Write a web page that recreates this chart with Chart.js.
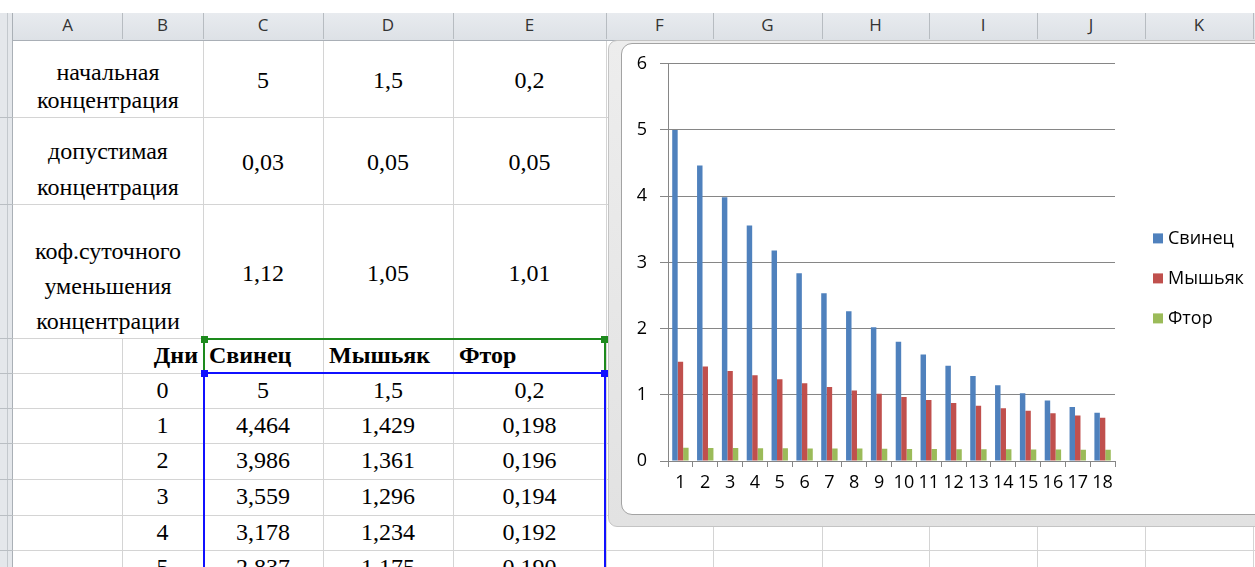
<!DOCTYPE html>
<html lang="ru">
<head>
<meta charset="utf-8">
<script src="https://cdn.jsdelivr.net/npm/chart.js@4.4.0/dist/chart.umd.min.js"></script>
<style>
    body { margin: 0; width: 1255px; height: 567px; overflow: hidden; background: #fff; position: relative; font-family: "Liberation Serif", serif; }
    .abs { position: absolute; box-sizing: border-box; }
    .hline { position: absolute; height: 1px; background: #d4d4d4; }
    .vline { position: absolute; width: 1px; background: #d4d4d4; }
    .hdr { position: absolute; top: 13px; height: 27px; background: linear-gradient(#e8ebef, #dde1e6); border-bottom: 1px solid #a9afb6; }
    .hdr-cell { position: absolute; top: 0; height: 26px; line-height: 26px; text-align: center; font: 17px "Open Sans", sans-serif; color: #333; border-right: 1px solid #b7bcc1; box-sizing: border-box; }
    .cell { position: absolute; display: flex; flex-direction: column; justify-content: center; align-items: center; font-size: 24px; color: #000; box-sizing: border-box; }
    .bold { font-weight: bold; }
    #frame { left: 608px; top: 40px; width: 670px; height: 487px; background: linear-gradient(#ededed, #e2e2e2); border: 1px solid #c4c4c4; border-radius: 9px 0 0 9px; }
    #panel { left: 621px; top: 43px; width: 660px; height: 472px; background: #fff; border: 1px solid #a3a3a3; border-radius: 11px 0 0 11px; }
    #chartBox { position: absolute; left: 623px; top: 40px; width: 632px; height: 474px; }
</style>
</head>
<body>
<div id="sheet"></div>
<div id="frame" class="abs"></div>
<div id="panel" class="abs"></div>
<div id="chartBox"><canvas id="barChart" width="632" height="474"></canvas></div>

<script>
// колонки и строки листа
const colEdges = [13, 122, 203, 323, 453, 606, 713, 822, 929, 1037, 1145, 1253];
const colNames = ['A', 'B', 'C', 'D', 'E', 'F', 'G', 'H', 'I', 'J', 'K'];
const rowEdges = [40, 117, 204, 338, 373, 408, 443, 479, 515, 550, 585];

// параметры
const paramLabels = [
    ['начальная', 'концентрация'],
    ['допустимая', 'концентрация'],
    ['коф.суточного', 'уменьшения', 'концентрации']
];
const paramLineHeights = [28, 36, 35];
const paramShift = [7, 8, 15];
const paramValues = [
    ['5', '1,5', '0,2'],
    ['0,03', '0,05', '0,05'],
    ['1,12', '1,05', '1,01']
];
const tableHead = ['Дни', 'Свинец', 'Мышьяк', 'Фтор'];

// данные диаграммы
const days = ['1', '2', '3', '4', '5', '6', '7', '8', '9', '10', '11', '12', '13', '14', '15', '16', '17', '18'];
const svinets = [5, 4.464, 3.986, 3.559, 3.178, 2.837, 2.533, 2.262, 2.019, 1.803, 1.610, 1.437, 1.283, 1.146, 1.023, 0.914, 0.816, 0.728];
const myshyak = [1.5, 1.429, 1.361, 1.296, 1.234, 1.175, 1.119, 1.066, 1.015, 0.967, 0.921, 0.877, 0.835, 0.795, 0.758, 0.722, 0.687, 0.655];
const ftor = [0.2, 0.198, 0.196, 0.194, 0.192, 0.190, 0.188, 0.187, 0.185, 0.183, 0.181, 0.179, 0.177, 0.176, 0.174, 0.172, 0.170, 0.169];
const seriesNames = ['Свинец', 'Мышьяк', 'Фтор'];
const seriesColors = ['#4f81bd', '#c0504d', '#9bbb59'];
const yTicks = [0, 1, 2, 3, 4, 5, 6];

function el(cls, style, html) {
    const d = document.createElement('div');
    d.className = cls;
    Object.assign(d.style, style);
    if (html !== undefined) d.innerHTML = html;
    document.getElementById('sheet').appendChild(d);
    return d;
}

function fmt(v, i) {
    return (i === 0 ? String(v) : v.toFixed(3)).replace('.', ',');
}

function buildSheet() {
    // левая полоса заголовков строк
    el('abs', { left: '0px', top: '13px', width: '13px', height: '554px', background: '#e4e7eb', borderRight: '1px solid #aab0b6' });
    el('abs', { left: '7px', top: '13px', width: '1px', height: '554px', background: '#c3c8cd' });

    // сетка
    for (let r = 1; r < rowEdges.length; r++) {
        el('hline', { left: '13px', top: rowEdges[r] + 'px', width: '1242px' });
        el('abs', { left: '0px', top: rowEdges[r] + 'px', width: '13px', height: '1px', background: '#b9bec3' });
    }
    colEdges.slice(1).forEach((x, i) => {
        const c = i + 1;
        // A|B объединены в первых трёх строках
        const top = (c === 1) ? rowEdges[3] : 40;
        el('vline', { left: x + 'px', top: top + 'px', height: (567 - top) + 'px' });
    });

    // заголовки колонок
    const hdr = el('hdr', { left: '13px', width: '1242px' });
    colNames.forEach((n, i) => {
        const d = document.createElement('div');
        d.className = 'hdr-cell';
        d.style.left = (colEdges[i] - 13) + 'px';
        d.style.width = (colEdges[i + 1] - colEdges[i] + 1) + 'px';
        d.textContent = n;
        hdr.appendChild(d);
    });

    // параметры
    paramLabels.forEach((lines, r) => {
        const y1 = rowEdges[r], y2 = rowEdges[r + 1];
        el('cell', { left: colEdges[0] + 'px', top: (y1 + paramShift[r]) + 'px', width: (colEdges[2] - colEdges[0]) + 'px', height: (y2 - y1) + 'px', lineHeight: paramLineHeights[r] + 'px', textAlign: 'center' },
            lines.join('<br>'));
        paramValues[r].forEach((v, c) => {
            el('cell', { left: colEdges[c + 2] + 'px', top: (y1 + 2) + 'px', width: (colEdges[c + 3] - colEdges[c + 2]) + 'px', height: (y2 - y1) + 'px' }, v);
        });
    });

    // шапка таблицы
    const hy1 = rowEdges[3], hy2 = rowEdges[4];
    el('cell bold', { left: colEdges[1] + 'px', top: hy1 + 'px', width: (colEdges[2] - colEdges[1] - 5) + 'px', height: (hy2 - hy1) + 'px', alignItems: 'flex-end' }, tableHead[0]);
    tableHead.slice(1).forEach((t, c) => {
        el('cell bold', { left: (colEdges[c + 2] + 6) + 'px', top: hy1 + 'px', width: (colEdges[c + 3] - colEdges[c + 2]) + 'px', height: (hy2 - hy1) + 'px', alignItems: 'flex-start' }, t);
    });

    // строки значений
    for (let i = 0; i < 6; i++) {
        const y1 = rowEdges[4 + i], y2 = y1 + 35;
        const vals = [String(i), fmt(svinets[i], i), fmt(myshyak[i], i), fmt(ftor[i], i)];
        vals.forEach((v, c) => {
            el('cell', { left: colEdges[c + 1] + 'px', top: y1 + 'px', width: (colEdges[c + 2] - colEdges[c + 1]) + 'px', height: (y2 - y1) + 'px' }, v);
        });
    }

    // выделения
    el('abs', { left: '203px', top: '338px', width: '403px', height: '36px', border: '2px solid #1d8a1d' });
    el('abs', { left: '203px', top: '372px', width: '403px', height: '220px', border: '2px solid #1010ff' });
    [[201, 336, '#1d8a1d'], [601, 336, '#1d8a1d'], [201, 370, '#1010ff'], [601, 370, '#1010ff']].forEach(h => {
        el('abs', { left: h[0] + 'px', top: h[1] + 'px', width: '7px', height: '7px', background: h[2] });
    });
}

const sideLegend = {
    id: 'sideLegend',
    afterDraw(chart) {
        const { ctx, chartArea } = chart;
        const mid = (chartArea.top + chartArea.bottom) / 2 + 16;
        ctx.save();
        ctx.font = '18px "Open Sans"';
        ctx.textBaseline = 'middle';
        chart.data.datasets.forEach((ds, i) => {
            const y = mid + (i - 1) * 40;
            const x = chartArea.right + 38;
            ctx.fillStyle = ds.backgroundColor;
            ctx.fillRect(x, y - 5, 10, 10);
            ctx.fillStyle = '#000';
            ctx.fillText(ds.label, x + 15, y);
        });
        ctx.restore();
    }
};

function drawChart() {
    const ctx = document.getElementById('barChart').getContext('2d');
    new Chart(ctx, {
        type: 'bar',
        data: {
            labels: days,
            datasets: [svinets, myshyak, ftor].map((d, i) => ({
                label: seriesNames[i],
                data: d,
                backgroundColor: seriesColors[i],
                barPercentage: 1,
                categoryPercentage: 0.66
            }))
        },
        options: {
            responsive: false,
            animation: false,
            devicePixelRatio: 1,
            layout: { padding: { left: 0, top: 12, right: 140, bottom: 0 } },
            plugins: { legend: { display: false }, tooltip: { enabled: false } },
            scales: {
                x: {
                    grid: { offset: true, drawOnChartArea: false, tickLength: 6, color: '#868686' },
                    border: { color: '#868686' },
                    ticks: { autoSkip: false, maxRotation: 0, padding: 5, color: '#000', font: { family: 'Open Sans', size: 18 } },
                    afterFit: s => { s.height = 53; }
                },
                y: {
                    min: yTicks[0],
                    max: yTicks[yTicks.length - 1],
                    afterBuildTicks: s => { s.ticks = yTicks.map(v => ({ value: v })); },
                    grid: { color: '#868686', tickLength: 8 },
                    border: { color: '#868686' },
                    ticks: { padding: 13, color: '#000', font: { family: 'Open Sans', size: 18 } },
                    afterFit: s => { s.width = 45; }
                }
            }
        },
        plugins: [sideLegend]
    });
}

buildSheet();
drawChart();
</script>
</body>
</html>
